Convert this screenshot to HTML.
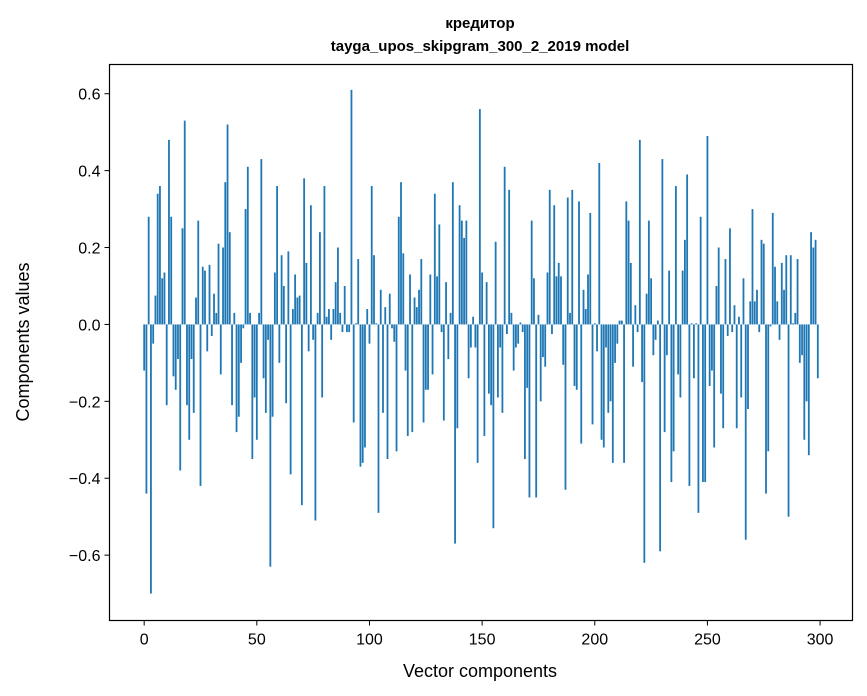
<!DOCTYPE html>
<html><head><meta charset="utf-8"><style>
html,body{margin:0;padding:0;background:#fff;}
svg{display:block;font-family:"Liberation Sans","DejaVu Sans",sans-serif;}
</style></head><body>
<svg id="chart" width="867" height="696" viewBox="0 0 867 696" xmlns="http://www.w3.org/2000/svg">
<rect x="0" y="0" width="867" height="696" fill="#fff"/>
<text x="480" y="28" text-anchor="middle" font-size="15" font-weight="bold">кредитор</text>
<text x="480" y="51" text-anchor="middle" font-size="15" font-weight="bold">tayga_upos_skipgram_300_2_2019 model</text>
<g id="bars"></g>
<g id="xticks"></g>
<g id="yticks"></g>
<rect x="109.5" y="64.5" width="743" height="556" fill="none" stroke="#000" stroke-width="1.2"/>
<text x="480" y="677" text-anchor="middle" font-size="18">Vector components</text>
<text transform="translate(29,342) rotate(-90)" text-anchor="middle" font-size="18">Components values</text>
</svg>
<script>
const values = [
-0.12,-0.44,0.28,-0.70,-0.05,0.075,0.34,0.36,0.12,0.135,
-0.21,0.48,0.28,-0.135,-0.17,-0.09,-0.38,0.25,0.53,-0.21,
-0.30,-0.09,-0.23,0.07,0.27,-0.42,0.15,0.14,-0.07,0.155,
-0.03,0.08,0.03,0.21,-0.13,0.20,0.37,0.52,0.24,-0.21,
0.03,-0.28,-0.24,-0.10,-0.01,0.30,0.41,0.03,-0.35,-0.19,
-0.30,0.03,0.43,-0.14,-0.23,-0.04,-0.63,-0.24,0.135,0.36,
-0.10,0.18,0.10,-0.205,0.19,-0.39,0.04,0.13,0.07,0.075,
-0.47,0.38,0.16,-0.07,0.31,-0.04,-0.51,0.03,0.24,-0.19,
0.36,0.02,0.04,-0.04,0.04,0.11,0.20,0.03,-0.02,0.10,
-0.02,-0.02,0.61,-0.255,0.003,0.17,-0.37,-0.36,-0.32,0.04,
-0.05,0.36,0.18,0.003,-0.49,0.09,-0.23,0.045,-0.35,0.08,
-0.01,-0.045,-0.33,0.28,0.37,0.185,-0.12,-0.29,0.13,-0.28,
0.07,0.045,0.09,0.17,-0.255,-0.17,-0.17,0.13,-0.13,0.34,
0.125,0.26,-0.02,-0.25,0.11,-0.09,0.03,0.37,-0.57,-0.27,
0.31,0.27,0.225,0.27,-0.14,-0.06,0.02,-0.06,-0.36,0.56,
0.135,-0.29,0.11,-0.18,-0.21,-0.53,0.215,-0.19,-0.06,-0.23,
0.41,-0.025,0.35,0.03,-0.12,-0.06,-0.05,0.005,-0.02,-0.35,
-0.165,-0.45,0.27,0.12,-0.45,0.025,-0.20,-0.085,-0.11,0.135,
0.35,-0.025,0.31,0.125,0.16,0.125,-0.105,-0.43,0.33,0.03,
0.35,-0.16,-0.17,0.32,-0.31,0.09,0.04,0.13,0.29,-0.26,
0.003,-0.07,0.42,-0.30,-0.32,-0.06,-0.23,-0.20,-0.36,-0.10,
-0.05,0.01,0.01,-0.36,0.32,0.27,0.16,-0.11,0.05,-0.02,
0.48,-0.15,-0.62,0.08,0.27,0.12,-0.08,-0.04,0.01,-0.59,
0.43,-0.28,-0.08,0.14,-0.41,-0.33,0.36,-0.13,-0.19,0.14,
0.22,0.39,-0.42,0.003,-0.14,0.003,-0.49,0.28,-0.41,-0.41,
0.49,-0.16,-0.12,-0.32,0.10,0.20,-0.18,-0.27,0.17,-0.03,
0.25,-0.02,0.05,-0.27,0.02,-0.19,0.12,-0.56,-0.22,0.06,
0.30,0.06,0.09,-0.02,0.22,0.21,-0.44,-0.33,-0.005,0.29,
0.15,0.06,-0.04,0.16,0.09,0.18,-0.50,0.18,0.003,0.03,
0.17,-0.10,-0.08,-0.30,-0.20,-0.34,0.24,0.20,0.22,-0.14
];
const xTickValues = [0,50,100,150,200,250,300];
const yTickValues = [-0.6,-0.4,-0.2,0.0,0.2,0.4,0.6];
const yTickLabels = ["\u22120.6","\u22120.4","\u22120.2","0.0","0.2","0.4","0.6"];

const NS = "http://www.w3.org/2000/svg";
const L = 109.5, R = 852.5, T = 64.5, B = 620.5;
const xMin = -15.39, xMax = 314.39, yMin = -0.770, yMax = 0.676;
function xs(v){ return L + (v - xMin) / (xMax - xMin) * (R - L); }
function ys(v){ return B - (v - yMin) / (yMax - yMin) * (B - T); }

const barsG = document.getElementById('bars');
values.forEach((v, i) => {
  const r = document.createElementNS(NS, 'rect');
  const x0 = xs(i - 0.4), x1 = xs(i + 0.4);
  const y0 = ys(Math.max(v, 0)), y1 = ys(Math.min(v, 0));
  r.setAttribute('x', x0);
  r.setAttribute('y', y0);
  r.setAttribute('width', x1 - x0);
  r.setAttribute('height', Math.max(y1 - y0, 0.01));
  r.setAttribute('fill', '#1f77b4');
  
  
  barsG.appendChild(r);
});

const xg = document.getElementById('xticks');
xTickValues.forEach(v => {
  const x = xs(v);
  const ln = document.createElementNS(NS, 'line');
  ln.setAttribute('x1', x); ln.setAttribute('x2', x);
  ln.setAttribute('y1', B); ln.setAttribute('y2', B + 5);
  ln.setAttribute('stroke', '#000'); ln.setAttribute('stroke-width', '1');
  
  
  xg.appendChild(ln);
  const t = document.createElementNS(NS, 'text');
  t.setAttribute('x', x); t.setAttribute('y', B + 24);
  t.setAttribute('text-anchor', 'middle'); t.setAttribute('font-size', '16');
  t.textContent = String(v);
  
  
  xg.appendChild(t);
});

const yg = document.getElementById('yticks');
yTickValues.forEach((v, k) => {
  const y = ys(v);
  const ln = document.createElementNS(NS, 'line');
  ln.setAttribute('x1', L - 5); ln.setAttribute('x2', L);
  ln.setAttribute('y1', y); ln.setAttribute('y2', y);
  ln.setAttribute('stroke', '#000'); ln.setAttribute('stroke-width', '1');
  
  
  yg.appendChild(ln);
  const t = document.createElementNS(NS, 'text');
  t.setAttribute('x', L - 9); t.setAttribute('y', y + 6);
  t.setAttribute('text-anchor', 'end'); t.setAttribute('font-size', '16');
  t.textContent = yTickLabels[k];
  
  
  yg.appendChild(t);
});
</script>
</body></html>
